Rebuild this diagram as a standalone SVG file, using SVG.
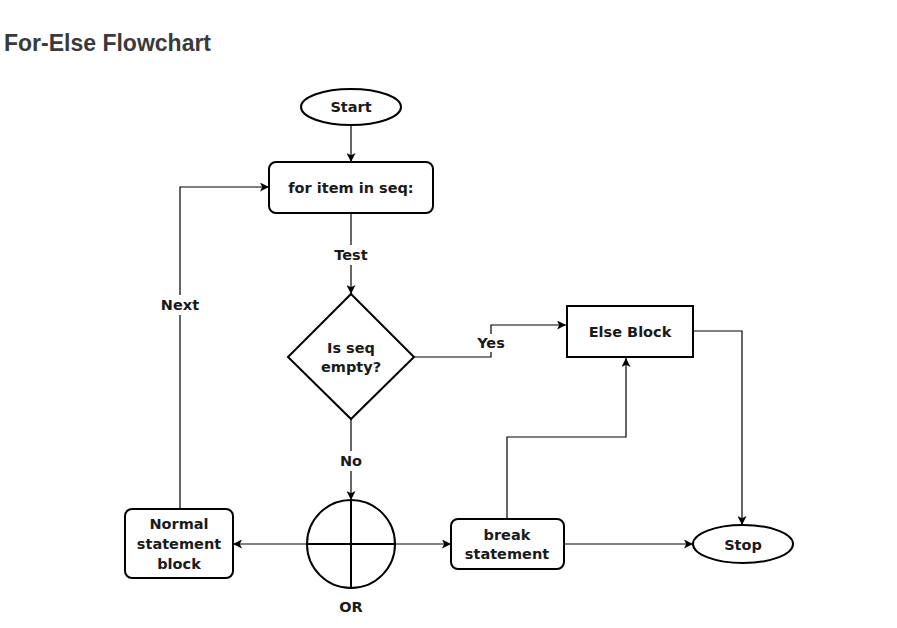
<svg xmlns="http://www.w3.org/2000/svg" width="897" height="628" viewBox="0 0 897 628">
<style>
.title{font-family:"Liberation Sans",Arial,sans-serif;font-weight:bold;font-size:23px;fill:#3a3a3a}
.node{fill:#fff;stroke:#000;stroke-width:2}
.t{font-family:"DejaVu Sans",Verdana,sans-serif;font-weight:bold;font-size:14.5px;fill:#1a1a1a;text-anchor:middle;dominant-baseline:central}
.c{fill:none;stroke:#000;stroke-width:1.2}
.lbl{fill:#fff}
</style>
<defs>
<marker id="arr" viewBox="0 0 10 10" refX="10" refY="5" markerWidth="9" markerHeight="9" markerUnits="userSpaceOnUse" orient="auto">
<path d="M0,0 L10,5 L0,10 L2.5,5 Z" fill="#000"/>
</marker>
</defs>
<rect width="897" height="628" fill="#fff"/>
<text class="title" x="4" y="51">For-Else Flowchart</text>

<g id="connectors">
<path class="c" d="M351,125 V162" marker-end="url(#arr)"/>
<path class="c" d="M351,213 V294" marker-end="url(#arr)"/>
<path class="c" d="M351,418 V500" marker-end="url(#arr)"/>
<path class="c" d="M413,357 H491 V325 H566" marker-end="url(#arr)"/>
<path class="c" d="M693,331 H742 V525" marker-end="url(#arr)"/>
<path class="c" d="M507,519 V437 H626 V358" marker-end="url(#arr)"/>
<path class="c" d="M564,544 H693" marker-end="url(#arr)"/>
<path class="c" d="M351,544 H451" marker-end="url(#arr)"/>
<path class="c" d="M351,544 H233" marker-end="url(#arr)"/>
<path class="c" d="M180,509 V187 H269" marker-end="url(#arr)"/>
<rect class="lbl" x="332" y="245" width="38" height="20"/>
<text class="t" x="351" y="255">Test</text>
<rect class="lbl" x="159" y="295" width="42" height="20"/>
<text class="t" x="180" y="305">Next</text>
<rect class="lbl" x="474" y="334" width="34" height="18"/>
<text class="t" x="491" y="343">Yes</text>
<rect class="lbl" x="337" y="451" width="28" height="20"/>
<text class="t" x="351" y="461">No</text>
</g>

<g id="start">
<ellipse class="node" cx="351" cy="107" rx="50" ry="18"/>
<text class="t" x="351" y="107">Start</text>
</g>
<g id="for">
<rect class="node" x="269" y="162" width="164" height="51" rx="7"/>
<text class="t" x="351" y="188">for item in seq:</text>
</g>
<g id="decision">
<polygon class="node" points="351,294 414,357 351,419 288,357"/>
<text class="t" x="351" y="348">Is seq</text>
<text class="t" x="351" y="367">empty?</text>
</g>
<g id="else">
<rect class="node" x="567" y="306" width="126" height="51"/>
<text class="t" x="630" y="332">Else Block</text>
</g>
<g id="or">
<circle cx="351" cy="544" r="44" fill="none" stroke="#000" stroke-width="2"/>
<path d="M351,500 V588 M307,544 H395" stroke="#000" stroke-width="2" fill="none"/>
<text class="t" x="351" y="607">OR</text>
</g>
<g id="normal">
<rect class="node" x="125" y="509" width="108" height="69" rx="7"/>
<text class="t" x="179" y="524">Normal</text>
<text class="t" x="179" y="544">statement</text>
<text class="t" x="179" y="564">block</text>
</g>
<g id="break">
<rect class="node" x="451" y="519" width="113" height="50" rx="7"/>
<text class="t" x="507" y="535">break</text>
<text class="t" x="507" y="554">statement</text>
</g>
<g id="stop">
<ellipse class="node" cx="743" cy="544" rx="50" ry="19"/>
<text class="t" x="743" y="545">Stop</text>
</g>
</svg>
